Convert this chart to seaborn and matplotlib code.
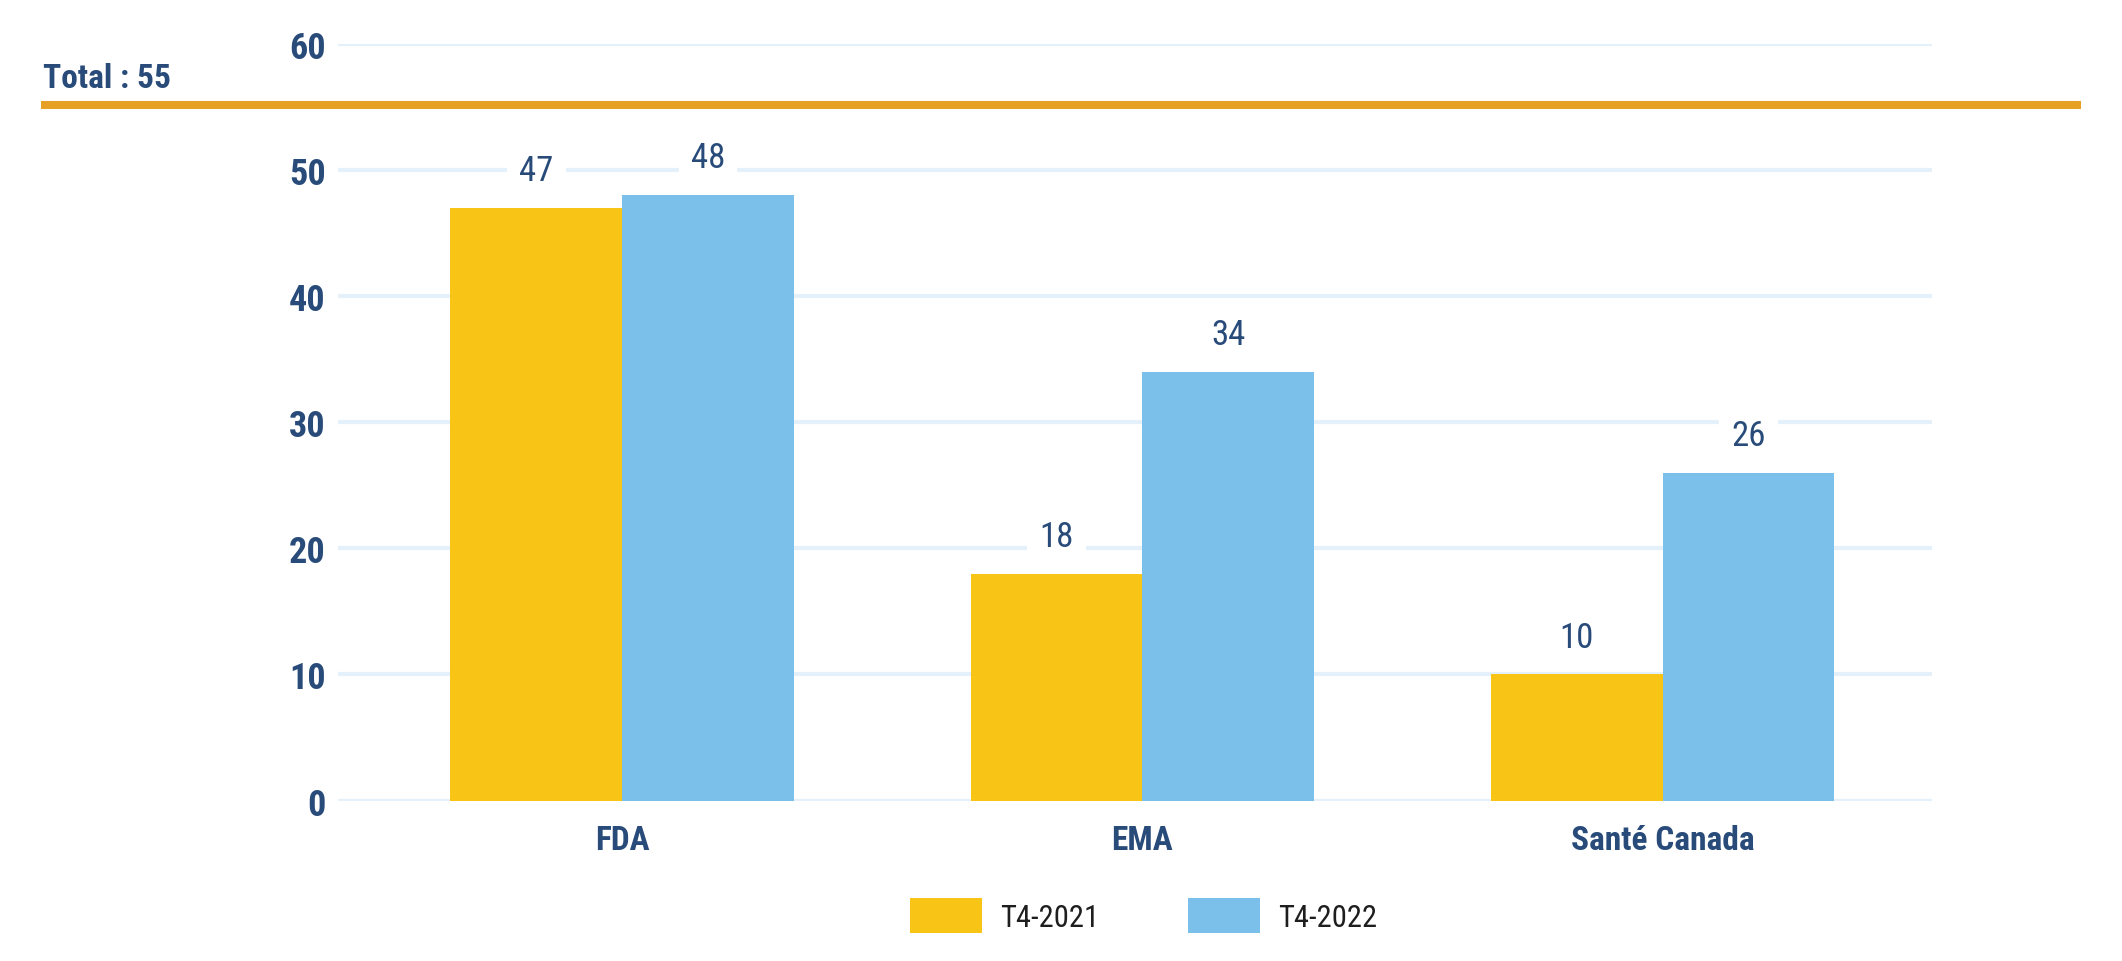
"""
Grouped bar chart: approvals by agency, T4-2021 vs T4-2022.
"""

import pandas as pd
import matplotlib.pyplot as plt
import seaborn as sns
from matplotlib import font_manager
from matplotlib.lines import Line2D

# Data
AGENCIES = ["FDA", "EMA", "Santé Canada"]
PERIODS = ["T4-2021", "T4-2022"]
T4_2021 = [47, 18, 10]
T4_2022 = [48, 34, 26]
Y_TICKS = [0, 10, 20, 30, 40, 50, 60]
TOTAL_LABEL = "Total : 55"

NAVY = "#284B7A"
YELLOW = "#F8C415"
BLUE = "#7AC0EA"
ORANGE = "#E6A024"
GRID = "#E4F1FB"


def pick_font():
    installed = {f.name for f in font_manager.fontManager.ttflist}
    for name in ["Liberation Sans Narrow", "Roboto Condensed", "Open Sans"]:
        if name in installed:
            return name
    return "DejaVu Sans"


def main():
    sns.set_theme(style="white")
    plt.rcParams['font.family'] = [pick_font(), 'DejaVu Sans']

    df = pd.DataFrame({
        'agency': AGENCIES * 2,
        'period': [PERIODS[0]] * len(AGENCIES) + [PERIODS[1]] * len(AGENCIES),
        'count': T4_2021 + T4_2022,
    })

    fig = plt.figure(figsize=(21.22, 9.62), dpi=100)
    ax = fig.add_axes([0.1593, 0.1667, 0.7512, 0.7868])

    sns.barplot(data=df, x='agency', y='count', hue='period', order=AGENCIES,
                hue_order=PERIODS, palette=[YELLOW, BLUE], saturation=1,
                width=0.66, linewidth=0, errorbar=None, ax=ax, zorder=3)

    ax.set_ylim(0, 60)
    ax.set_xlim(-0.546, 2.518)
    ax.set_yticks(Y_TICKS)
    ax.yaxis.grid(True, color=GRID, linewidth=3, zorder=0)
    ax.set_axisbelow(True)
    for s in ax.spines.values():
        s.set_visible(False)
    ax.set_xlabel('')
    ax.set_ylabel('')
    ax.tick_params(axis='y', length=0, pad=9, labelsize=26, labelcolor=NAVY)
    ax.tick_params(axis='x', length=0, pad=17, labelsize=24, labelcolor=NAVY)
    for lbl in ax.get_yticklabels() + ax.get_xticklabels():
        lbl.set_fontweight('bold')

    # Value labels with white box hiding the grid line
    for cont in ax.containers:
        ax.bar_label(cont, fmt='%d', padding=15, fontsize=25, color=NAVY,
                     bbox=dict(facecolor='white', edgecolor='none',
                               boxstyle='square,pad=0.35'), zorder=4)

    # Legend below the chart
    handles, labels = ax.get_legend_handles_labels()
    if ax.get_legend() is not None:
        ax.get_legend().remove()
    fig.legend(handles, labels, loc='center', bbox_to_anchor=(0.539, 0.047),
               ncol=2, frameon=False, fontsize=22, handlelength=2.35,
               handleheight=1.4, handletextpad=0.6, columnspacing=2.9,
               labelcolor='#1E1E1E')

    # Total banner with orange rule
    fig.text(0.0203, 0.918, TOTAL_LABEL, fontsize=24, fontweight='bold',
             color=NAVY, ha='left', va='center')
    fig.add_artist(Line2D([0.0193, 0.9805], [0.8898, 0.8898], color=ORANGE,
                          linewidth=5.8, solid_capstyle='butt', zorder=10))

    fig.savefig('out.png', dpi=100)
    plt.close(fig)


if __name__ == "__main__":
    main()
